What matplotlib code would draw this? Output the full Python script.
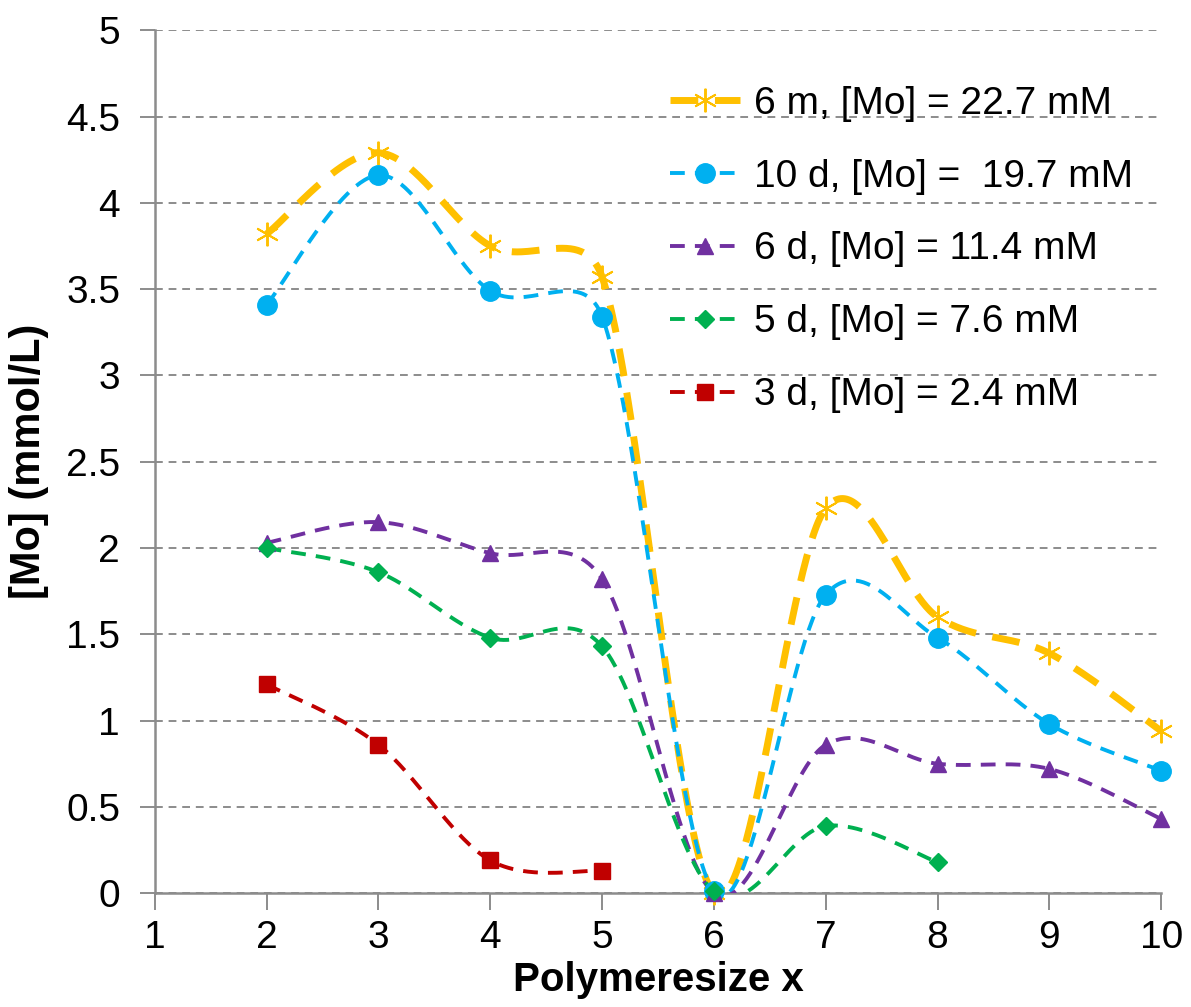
import numpy as np
import matplotlib
matplotlib.use('Agg')
import matplotlib.pyplot as plt

plt.rcParams['font.family'] = ['Liberation Sans', 'DejaVu Sans']

# Polymer size on the x axis
x_m6 = [2, 3, 4, 5, 6, 7, 8, 9, 10]
y_m6 = [3.82, 4.29, 3.75, 3.57, 0.0, 2.23, 1.60, 1.39, 0.94]

x_d10 = [2, 3, 4, 5, 6, 7, 8, 9, 10]
y_d10 = [3.41, 4.16, 3.49, 3.34, 0.01, 1.73, 1.48, 0.98, 0.71]

x_d6 = [2, 3, 4, 5, 6, 7, 8, 9, 10]
y_d6 = [2.03, 2.15, 1.97, 1.82, 0.0, 0.86, 0.75, 0.72, 0.43]

x_d5 = [2, 3, 4, 5, 6, 7, 8]
y_d5 = [2.00, 1.86, 1.48, 1.43, 0.01, 0.39, 0.18]

x_d3 = [2, 3, 4, 5]
y_d3 = [1.21, 0.86, 0.19, 0.13]

labels = ['6 m, [Mo] = 22.7 mM', '10 d, [Mo] =  19.7 mM', '6 d, [Mo] = 11.4 mM',
          '5 d, [Mo] = 7.6 mM', '3 d, [Mo] = 2.4 mM']

# pixels per data unit, used so the smoothing works in screen space
PX_X = 112.0
PX_Y = 172.6


def smooth(xs, ys, n=60):
    # Bezier smoothing through the points, control arms capped at half the segment
    p = np.column_stack([np.asarray(xs, float) * PX_X, np.asarray(ys, float) * PX_Y])
    out = []
    for i in range(len(p) - 1):
        p0 = p[i - 1] if i > 0 else p[i]
        p1 = p[i]
        p2 = p[i + 1]
        p3 = p[i + 2] if i + 2 < len(p) else p[i + 1]
        half = np.linalg.norm(p2 - p1) / 2
        a1 = (p2 - p0) / 6
        a2 = (p3 - p1) / 6
        if np.linalg.norm(a1) > half:
            a1 = a1 * half / np.linalg.norm(a1)
        if np.linalg.norm(a2) > half:
            a2 = a2 * half / np.linalg.norm(a2)
        c1 = p1 + a1
        c2 = p2 - a2
        t = np.linspace(0, 1, n)[:, None]
        seg = ((1 - t) ** 3) * p1 + 3 * ((1 - t) ** 2) * t * c1 + 3 * (1 - t) * t ** 2 * c2 + t ** 3 * p2
        out.append(seg if i == 0 else seg[1:])
    pts = np.vstack(out)
    return pts[:, 0] / PX_X, pts[:, 1] / PX_Y


fig = plt.figure(figsize=(11.91, 10.07), dpi=100)
ax = fig.add_axes([0.130, 0.113, 0.845, 0.857])

series = [
    (x_m6, y_m6, '#FFC000', 5.0, (4, 2.4), dict(marker=(6, 2, 0), ms=17, mew=1.4, mec='#FFC000', mfc='none')),
    (x_d10, y_d10, '#00B0F0', 2.8, (3.8, 2.6), dict(marker='o', ms=14, mec='#00B0F0', mfc='#00B0F0')),
    (x_d6, y_d6, '#7030A0', 2.8, (3.8, 2.6), dict(marker='^', ms=12, mec='#7030A0', mfc='#7030A0')),
    (x_d5, y_d5, '#00B050', 2.8, (3.8, 2.6), dict(marker='D', ms=9, mec='#00B050', mfc='#00B050')),
    (x_d3, y_d3, '#C00000', 2.8, (3.8, 2.6), dict(marker='s', ms=12, mec='#C00000', mfc='#C00000')),
]

handles = []
for (xs, ys, col, lw, dash, mk), lab in zip(series, labels):
    sx, sy = smooth(xs, ys)
    ax.plot(sx, sy, color=col, lw=lw, dashes=dash, zorder=3)
    ax.plot(xs, ys, ls='none', zorder=4, clip_on=False, **mk)
    h, = ax.plot([], [], color=col, lw=lw, dashes=dash, **mk)
    handles.append(h)

ax.set_xlim(1, 10)
ax.set_ylim(0, 5)
ax.set_xticks(range(1, 11))
ax.set_yticks(np.arange(0, 5.01, 0.5))
ax.set_yticklabels(['0', '0.5', '1', '1.5', '2', '2.5', '3', '3.5', '4', '4.5', '5'])

ax.grid(axis='y', color='#8C8C8C', lw=1.4, dashes=(4, 3))
ax.set_axisbelow(True)
for s in ['top', 'right']:
    ax.spines[s].set_visible(False)
for s in ['left', 'bottom']:
    ax.spines[s].set_color('#8C8C8C')
    ax.spines[s].set_linewidth(1.8)
ax.tick_params(axis='y', direction='out', length=11, width=1.4, color='#8C8C8C', labelsize=28, pad=14)
ax.tick_params(axis='x', direction='out', length=12, width=1.4, color='#8C8C8C', labelsize=28, pad=7)

ax.set_xlabel('Polymeresize x', fontsize=29, fontweight='bold', labelpad=4)
ax.set_ylabel('[Mo] (mmol/L)', fontsize=30, fontweight='bold', labelpad=12)

fig.legend(handles, labels, loc='upper left', bbox_to_anchor=(0.5626, 0.915),
           frameon=False, fontsize=28, borderpad=0, borderaxespad=0,
           handlelength=1.8, handletextpad=0.35, labelspacing=0.95)

fig.savefig('out.png', dpi=100)
